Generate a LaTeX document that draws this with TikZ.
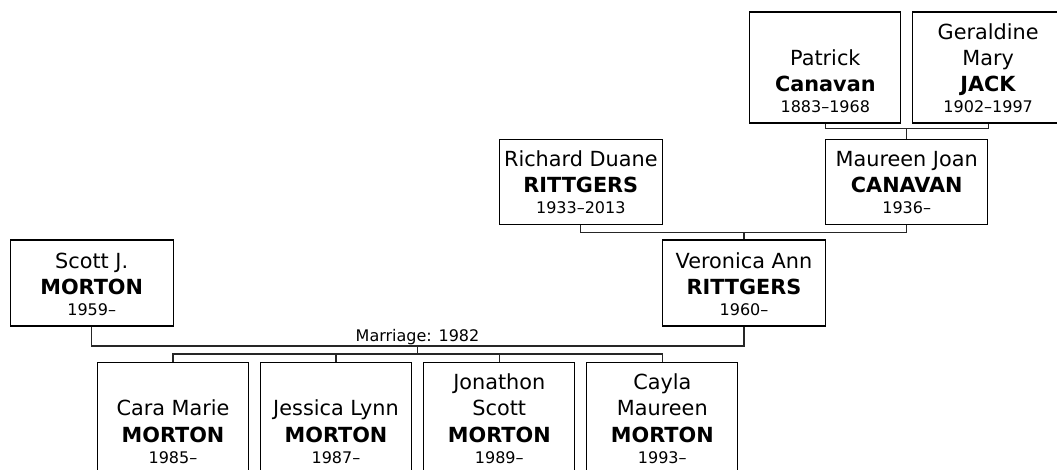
\documentclass[tikz,border=0pt]{standalone}
\usepackage{fontspec}
\setmainfont{DejaVu Sans}
\begin{document}
\begin{tikzpicture}[x=1pt,y=-1pt,
  box/.style={draw=black, line width=1.2pt, inner sep=0pt, minimum width=#1},
  tall/.style={minimum height=111pt},
  short/.style={minimum height=86pt},
  txt/.style={anchor=south, inner sep=0pt, align=center, font=\fontsize{20.8}{26.3}\selectfont},
  link/.style={draw=black!85, line width=1.2pt},
  mlabel/.style={anchor=base, inner sep=0pt, font=\fontsize{16}{19}\selectfont}]
\newcommand{\yr}[1]{\\[-5.3pt]{\fontsize{16}{18}\selectfont #1}}
\useasboundingbox (0,0) rectangle (1057,469);
% top row
\node[box=151pt, tall] (pat) at (825.3,67.5) {};
\node[box=151pt, tall] (ger) at (988.2,67.5) {};
% middle rows
\node[box=163pt, minimum height=85pt] (ric) at (580.8,181.7) {};
\node[box=162pt, minimum height=85pt] (mau) at (906.7,181.7) {};
\node[box=163pt, short] (ver) at (744,283) {};
\node[box=163pt, short] (sco) at (91.7,283) {};
% children
\node[box=151pt, tall] (c1) at (173,418) {};
\node[box=151pt, tall] (c2) at (336,418) {};
\node[box=151pt, tall] (c3) at (499.3,418) {};
\node[box=151pt, tall] (c4) at (662.3,418) {};
% texts
\node[txt] (tpat) at ([yshift=10.5pt]pat.south) {Patrick\\\textbf{Canavan}\yr{1883–1968}};
\node[txt] (tger) at ([yshift=10.5pt]ger.south) {Geraldine\\Mary\\\textbf{JACK}\yr{1902–1997}};
\node[txt] (tric) at ([yshift=10.5pt]ric.south) {Richard Duane\\\textbf{RITTGERS}\yr{1933–2013}};
\node[txt] (tmau) at ([yshift=10.5pt]mau.south) {Maureen Joan\\\textbf{CANAVAN}\yr{1936–}};
\node[txt] (tver) at ([yshift=10.5pt]ver.south) {Veronica Ann\\\textbf{RITTGERS}\yr{1960–}};
\node[txt] (tsco) at ([yshift=10.5pt]sco.south) {Scott J.\\\textbf{MORTON}\yr{1959–}};
\node[txt] (tc1) at ([yshift=10.5pt]c1.south) {Cara Marie\\\textbf{MORTON}\yr{1985–}};
\node[txt] (tc2) at ([yshift=10.5pt]c2.south) {Jessica Lynn\\\textbf{MORTON}\yr{1987–}};
\node[txt] (tc3) at ([yshift=10.5pt]c3.south) {Jonathon\\Scott\\\textbf{MORTON}\yr{1989–}};
\node[txt] (tc4) at ([yshift=10.5pt]c4.south) {Cayla\\Maureen\\\textbf{MORTON}\yr{1993–}};
% junctions
\coordinate (j1) at (906.7,128.5);
\coordinate (j2) at (744,232.3);
\coordinate (j3) at (417.5,346);
\coordinate (j4) at (417.5,354);
% connectors
\draw[link] (pat.south) |- (j1) -| (ger.south);
\draw[link] (j1) -- (mau.north);
\draw[link] (ric.south) |- (j2) -| (mau.south);
\draw[link] (j2) -- (ver.north);
\draw[link] (sco.south) |- (j3) -| (ver.south);
\node[mlabel] (mlab) at (417.5,341.5) {Marriage: 1982};
\draw[link] (j3) -- (j4);
\draw[link] (c1.north) |- (j4) -| (c4.north);
\draw[link] (c2.north) -- (c2.north |- j4);
\draw[link] (c3.north) -- (c3.north |- j4);
\end{tikzpicture}
\end{document}
